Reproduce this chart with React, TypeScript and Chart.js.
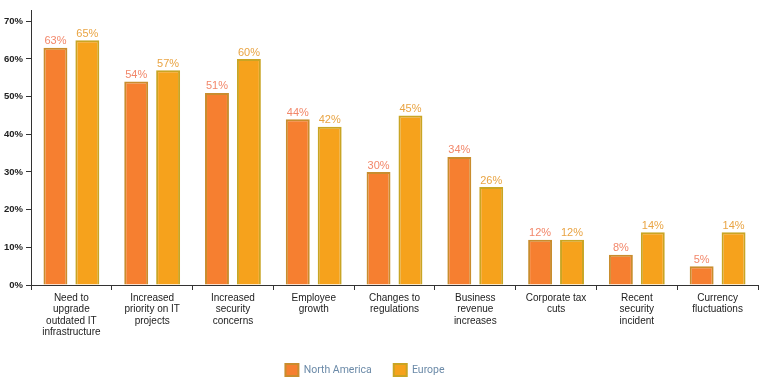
import React, { useEffect, useRef } from "react";
import { Chart, registerables } from "chart.js";

Chart.register(...registerables);

const categories: string[][] = [
  ["Need to", "upgrade", "outdated IT", "infrastructure"],
  ["Increased", "priority on IT", "projects"],
  ["Increased", "security", "concerns"],
  ["Employee", "growth"],
  ["Changes to", "regulations"],
  ["Business", "revenue", "increases"],
  ["Corporate tax", "cuts"],
  ["Recent", "security", "incident"],
  ["Currency", "fluctuations"],
];
const northAmerica = [63, 54, 51, 44, 30, 34, 12, 8, 5];
const europe = [65, 57, 60, 42, 45, 26, 12, 14, 14];
const seriesNames = ["North America", "Europe"];
const yTicks = [0, 10, 20, 30, 40, 50, 60, 70];

const labelColors = ["#f2876a", "#e9a443"];
const sans = "'Liberation Sans', Arial, sans-serif";

const valueLabels = {
  id: "valueLabels",
  afterDatasetsDraw(chart: any) {
    const ctx = chart.ctx;
    ctx.save();
    ctx.font = "11px 'Liberation Sans', Arial, sans-serif";
    ctx.textAlign = "center";
    ctx.textBaseline = "bottom";
    chart.data.datasets.forEach((ds: any, i: number) => {
      const meta = chart.getDatasetMeta(i);
      if (meta.hidden) return;
      ctx.fillStyle = labelColors[i];
      meta.data.forEach((bar: any, j: number) => {
        ctx.fillText(ds.data[j] + "%", bar.x, bar.y - 1);
      });
    });
    ctx.restore();
  },
};

const legendShift = {
  id: "legendShift",
  afterLayout(chart: any) {
    if (chart.legend) {
      chart.legend.left -= 14;
      chart.legend.right -= 14;
    }
  },
};

export default function App() {
  const ref = useRef<HTMLCanvasElement>(null);
  useEffect(() => {
    if (!ref.current) return;
    const chart = new Chart(ref.current, {
      type: "bar",
      data: {
        labels: categories,
        datasets: [
          {
            label: seriesNames[0],
            data: northAmerica,
            backgroundColor: "#f67f30",
            borderColor: "#c98d2e",
            borderWidth: 2,
            categoryPercentage: 0.79,
            barPercentage: 0.75,
          },
          {
            label: seriesNames[1],
            data: europe,
            backgroundColor: "#f6a21c",
            borderColor: "#c9a524",
            borderWidth: 2,
            categoryPercentage: 0.79,
            barPercentage: 0.75,
          },
        ],
      },
      options: {
        animation: false,
        responsive: true,
        maintainAspectRatio: false,
        layout: { padding: { top: 10, right: 4, left: 0, bottom: -3 } },
        plugins: {
          legend: {
            position: "bottom",
            labels: {
              boxWidth: 13,
              boxHeight: 12,
              padding: 22,
              color: "#6b8aa8",
              font: { family: "Roboto, sans-serif", size: 10.5 },
            },
          },
          tooltip: { enabled: false },
        },
        scales: {
          x: {
            afterFit: (scale: any) => {
              scale.height += 2;
            },
            grid: {
              drawOnChartArea: false,
              drawTicks: true,
              tickLength: 5,
              color: "#333",
              offset: true,
            },
            border: { color: "#333", width: 1 },
            ticks: {
              color: "#222",
              font: { family: sans, size: 10, lineHeight: 1.15 },
              maxRotation: 0,
              autoSkip: false,
              padding: 2,
            },
          },
          y: {
            min: 0,
            max: 73,
            afterBuildTicks: (scale: any) => {
              scale.ticks = yTicks.map((v) => ({ value: v }));
            },
            afterFit: (scale: any) => {
              scale.width = 31;
            },
            grid: {
              drawOnChartArea: false,
              drawTicks: true,
              tickLength: 5,
              color: "#333",
            },
            border: { color: "#333", width: 1 },
            ticks: {
              color: "#222",
              font: { family: sans, size: 9.5, weight: "bold" },
              callback: (v: any) => v + "%",
              padding: 3,
            },
          },
        },
      },
      plugins: [valueLabels, legendShift],
    });
    return () => chart.destroy();
  }, []);
  return (
    <div style={{ position: "absolute", left: 0, top: 0, width: 762, height: 383 }}>
      <canvas ref={ref} />
    </div>
  );
}
